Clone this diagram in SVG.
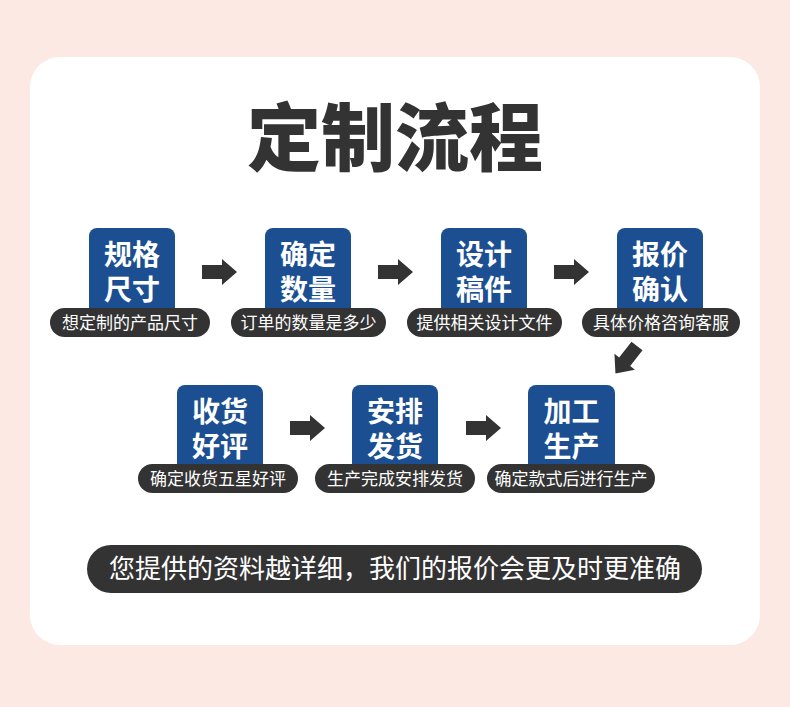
<svg xmlns="http://www.w3.org/2000/svg" width="790" height="707" viewBox="0 0 790 707">
<defs>
<style>
.box{fill:#1c4f92}
.pill{fill:#333333}
.bt{font-family:"Noto Sans CJK SC","Noto Sans",sans-serif;font-weight:700;font-size:28px;fill:#ffffff;text-anchor:middle}
.pt{font-family:"Noto Sans CJK SC","Noto Sans",sans-serif;font-size:17px;fill:#ffffff;text-anchor:middle}
.arr{fill:#333333}
</style>
<path id="ar" d="M0,-7 H20 V-13 L35,0 L20,13 V7 H0 Z"/>
</defs>
<rect width="790" height="707" fill="#fce9e3"/>
<rect x="30" y="57" width="730" height="588" rx="30" fill="#ffffff"/>
<text x="395" y="165" font-family="'Noto Sans CJK SC',sans-serif" font-weight="900" font-size="74" fill="#333333" text-anchor="middle">定制流程</text>

<g id="n1"><rect class="box" x="89" y="228" width="86" height="95" rx="8"/><text class="bt" x="132" y="265">规格<tspan x="132" y="300">尺寸</tspan></text><rect class="pill" x="50" y="308" width="160" height="29" rx="14.5"/><text class="pt" x="130" y="329">想定制的产品尺寸</text></g>
<g id="n2"><rect class="box" x="265" y="228" width="86" height="95" rx="8"/><text class="bt" x="308" y="265">确定<tspan x="308" y="300">数量</tspan></text><rect class="pill" x="231" y="308" width="155" height="29" rx="14.5"/><text class="pt" x="308.5" y="329">订单的数量是多少</text></g>
<g id="n3"><rect class="box" x="441" y="228" width="86" height="95" rx="8"/><text class="bt" x="484" y="265">设计<tspan x="484" y="300">稿件</tspan></text><rect class="pill" x="407" y="308" width="155" height="29" rx="14.5"/><text class="pt" x="484.5" y="329">提供相关设计文件</text></g>
<g id="n4"><rect class="box" x="617" y="228" width="86" height="95" rx="8"/><text class="bt" x="660" y="265">报价<tspan x="660" y="300">确认</tspan></text><rect class="pill" x="582" y="308" width="158" height="29" rx="14.5"/><text class="pt" x="661" y="329">具体价格咨询客服</text></g>
<g id="n5"><rect class="box" x="528" y="385" width="87" height="95" rx="8"/><text class="bt" x="571.5" y="422">加工<tspan x="571.5" y="457">生产</tspan></text><rect class="pill" x="487" y="464" width="168" height="29" rx="14.5"/><text class="pt" x="571" y="485">确定款式后进行生产</text></g>
<g id="n6"><rect class="box" x="352" y="385" width="86" height="95" rx="8"/><text class="bt" x="395" y="422">安排<tspan x="395" y="457">发货</tspan></text><rect class="pill" x="315" y="464" width="160" height="29" rx="14.5"/><text class="pt" x="395" y="485">生产完成安排发货</text></g>
<g id="n7"><rect class="box" x="177" y="385" width="86" height="95" rx="8"/><text class="bt" x="220" y="422">收货<tspan x="220" y="457">好评</tspan></text><rect class="pill" x="138" y="464" width="160" height="29" rx="14.5"/><text class="pt" x="218" y="485">确定收货五星好评</text></g>

<g id="connectors" class="arr">
<use href="#ar" x="202" y="272"/>
<use href="#ar" x="378" y="272"/>
<use href="#ar" x="554" y="272"/>
<use href="#ar" transform="translate(637,346) rotate(128)"/>
<use href="#ar" x="290" y="428"/>
<use href="#ar" x="466" y="428"/>
</g>

<g id="note"><rect x="87" y="545" width="615" height="48" rx="24" fill="#333333"/><text x="395" y="578" font-family="'Noto Sans CJK SC',sans-serif" font-size="26" fill="#ffffff" text-anchor="middle">您提供的资料越详细，我们的报价会更及时更准确</text></g>
</svg>
